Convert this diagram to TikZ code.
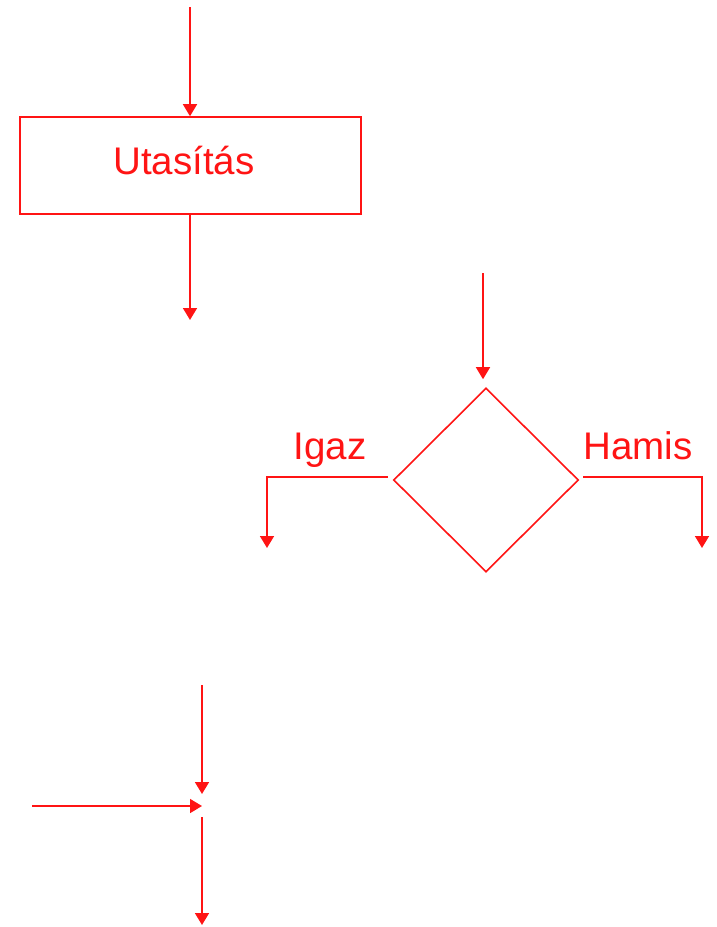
\documentclass[tikz,border=0pt]{standalone}
\usepackage{fontspec}
\setmainfont{Liberation Sans}
\usetikzlibrary{arrows.meta,shapes.geometric}
\definecolor{fc}{RGB}{255,20,20}
\begin{document}
\begin{tikzpicture}[x=1pt,y=-1pt,
  arr/.style={draw=fc,line width=1.6pt,-{Triangle[width=14pt,length=12pt]}},
  lbl/.style={text=fc,font=\fontsize{38.5}{42}\selectfont,inner sep=0pt},
  boxshape/.style={draw=fc,line width=1.6pt,rectangle,minimum width=341pt,minimum height=97pt,inner sep=0pt},
  dia/.style={draw=fc,line width=1.6pt,diamond,minimum width=185pt,minimum height=184pt,inner sep=0pt}]
\useasboundingbox (0,0) rectangle (717,927);
% statement box
\coordinate (top1) at (190,7);
\node[boxshape] (box) at (190.5,165.5) {};
\node[lbl,anchor=base] (boxtext) at (184,174) {Utasítás};
\coordinate (out1) at (190,320);
\draw[arr] (top1) -- (top1 |- box.north);
\draw[arr] (box.south -| out1) -- (out1);
% decision
\node[dia] (d) at (486,480) {};
\coordinate (in2) at (483,273);
\draw[arr,shorten >=8pt] (in2) -- (in2 |- d.north);
\coordinate (igazend) at (267,548);
\coordinate (hamisend) at (702,548);
\draw[arr] ([xshift=-5pt,yshift=3pt]d.west) -| (igazend);
\draw[arr] ([xshift=4pt,yshift=3pt]d.east) -| (hamisend);
\node[lbl,anchor=base] (igaz) at (330,459) {Igaz};
\node[lbl,anchor=base] (hamis) at (638,459) {Hamis};
% junction
\coordinate (j) at (202,806);
\coordinate (jin) at (202,685);
\coordinate (jleft) at (32,806);
\coordinate (jout) at (202,925);
\draw[arr,shorten >=12pt] (jin) -- (j);
\draw[arr] (jleft) -- (j);
\draw[arr,shorten <=11pt] (j) -- (jout);
\end{tikzpicture}
\end{document}
